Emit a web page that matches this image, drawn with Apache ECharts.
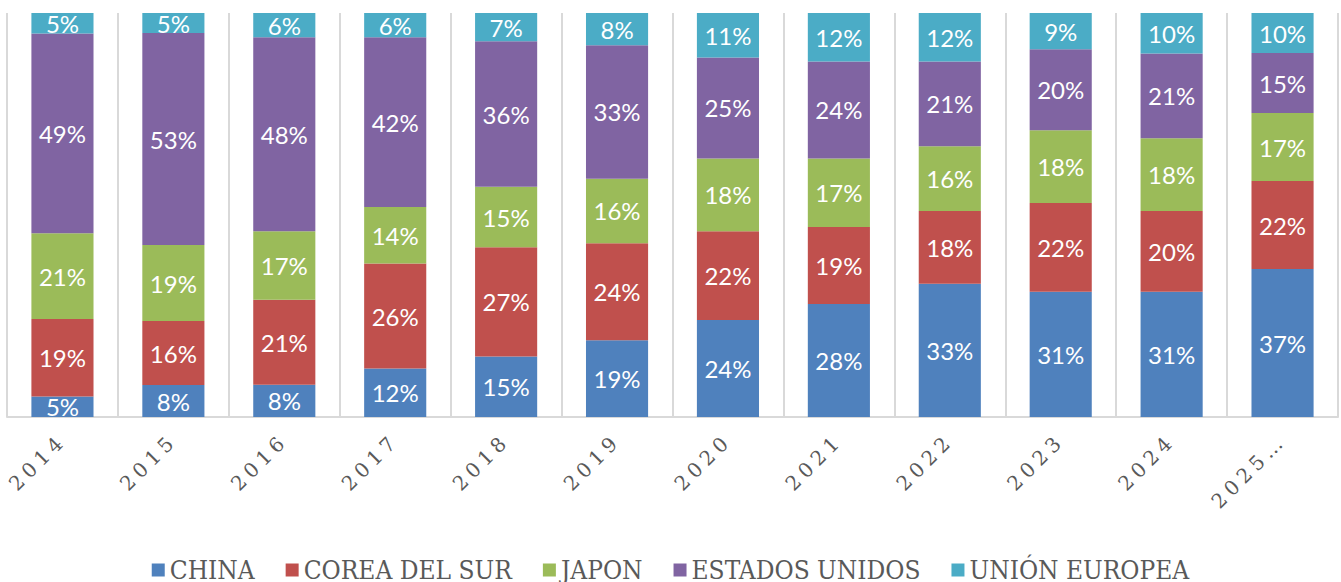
<!DOCTYPE html>
<html>
<head>
<meta charset="utf-8">
<script src="https://cdn.jsdelivr.net/npm/echarts@6/dist/echarts.min.js"></script>
<style>
  html, body { margin: 0; padding: 0; background: #fff; }
  #chart { width: 1341px; height: 582px; }
</style>
</head>
<body>
<div id="chart"></div>
<script>
const years = ['2014', '2015', '2016', '2017', '2018', '2019', '2020', '2021', '2022', '2023', '2024', '2025…'];
const china = [5, 8, 8, 12, 15, 19, 24, 28, 33, 31, 31, 37];
const corea = [19, 16, 21, 26, 27, 24, 22, 19, 18, 22, 20, 22];
const japon = [21, 19, 17, 14, 15, 16, 18, 17, 16, 18, 18, 17];
const eeuu = [49, 53, 48, 42, 36, 33, 25, 24, 21, 20, 21, 15];
const ue = [5, 5, 6, 6, 7, 8, 11, 12, 12, 9, 10, 10];

const groups = [
    { name: 'CHINA', data: china, color: '#4f81bd' },
    { name: 'COREA DEL SUR', data: corea, color: '#c0504d' },
    { name: 'JAPON', data: japon, color: '#9bbb59' },
    { name: 'ESTADOS UNIDOS', data: eeuu, color: '#8064a2' },
    { name: 'UNIÓN EUROPEA', data: ue, color: '#4bacc6' }
];

// 100% stacked: scale each column by its own total so every bar fills the plot
const totals = years.map((y, i) => groups.reduce((s, g) => s + g.data[i], 0));

const box = document.getElementById('chart');
const myChart = echarts.init(box, null, { renderer: 'svg' });
const option = {
    animation: false,
    grid: { left: 7, right: 3, top: 13, bottom: 165 },
    legend: {
        bottom: -6,
        left: 'center',
        itemWidth: 13,
        itemHeight: 13,
        itemGap: 31,
        icon: 'rect',
        textStyle: {
            color: '#595959',
            fontFamily: '"DejaVu Serif Condensed", "Liberation Serif", serif',
            fontSize: 26
        },
        data: groups.map(g => g.name)
    },
    xAxis: {
        type: 'category',
        data: years,
        axisLine: { lineStyle: { color: '#d9d9d9', width: 2 } },
        axisTick: { show: false },
        splitLine: { show: true, lineStyle: { color: '#d9d9d9', width: 2 } },
        axisLabel: {
            rotate: 45,
            interval: 0,
            margin: 20,
            color: '#595959',
            fontFamily: '"DejaVu Serif", "Liberation Serif", serif',
            fontSize: 20
        }
    },
    yAxis: {
        type: 'value',
        min: 0,
        max: 100,
        show: false,
        splitLine: { show: false }
    },
    series: groups.map(g => ({
        name: g.name,
        type: 'bar',
        stack: 'total',
        barCategoryGap: '44%',
        itemStyle: { color: g.color },
        label: {
            show: true,
            position: 'inside',
            color: '#fff',
            fontFamily: 'Lato, "Open Sans", sans-serif',
            fontSize: 24,
            formatter: p => g.data[p.dataIndex] + '%'
        },
        data: g.data.map((v, i) => v / totals[i] * 100)
    }))
};
myChart.setOption(option);

// spread the year labels a little, as in the original
const spreadYears = () => {
    box.querySelectorAll('text').forEach(t => {
        if (years.indexOf(t.textContent) >= 0) t.style.letterSpacing = '5px';
    });
};
spreadYears();
myChart.on('finished', spreadYears);
</script>
</body>
</html>
